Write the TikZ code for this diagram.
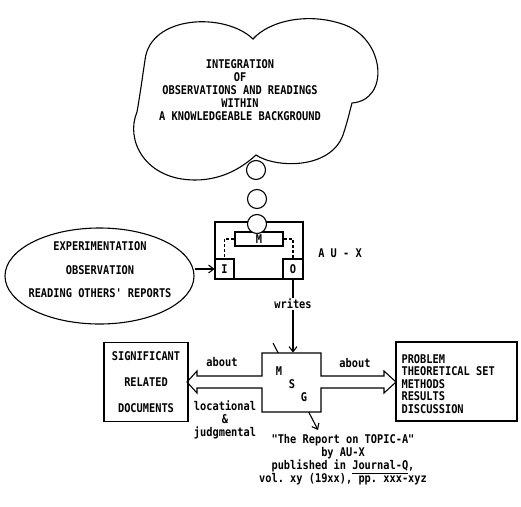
\documentclass[tikz,border=0pt]{standalone}
\usepackage{fontspec}
\setmonofont[FakeStretch=0.86]{DejaVu Sans Mono}
\usepackage{tikz}
\usetikzlibrary{arrows.meta, shapes.geometric}

\begin{document}
\begin{tikzpicture}[x=1pt, y=-1pt, line width=1.1pt,
    >={Straight Barb[length=5pt, width=8pt]},
    txt/.style={font=\ttfamily\bfseries\fontsize{12}{13}\selectfont, inner sep=1pt},
    box/.style={draw, rectangle, inner sep=0pt},
    bubble/.style={draw, circle, fill=white, minimum size=19pt, inner sep=0pt}]
    \useasboundingbox (0,0) rectangle (521,506);

    % Thought cloud
    \draw (253,39) .. controls (225,12) and (150,15) .. (145,60)
        .. controls (142,80) and (140,95) .. (137,112)
        .. controls (125,140) and (145,180) .. (195,180)
        .. controls (225,180) and (245,165) .. (256,155)
        .. controls (275,168) and (330,170) .. (343,135)
        .. controls (348,120) and (350,110) .. (352,103)
        .. controls (390,100) and (385,40) .. (345,25)
        .. controls (310,12) and (270,20) .. cycle;
    \node[txt, align=center] (idea) at (240,90)
        {INTEGRATION\\OF\\OBSERVATIONS AND READINGS\\WITHIN\\A KNOWLEDGEABLE BACKGROUND};
    \node[bubble] (b1) at (256,170) {};
    \node[bubble] (b2) at (257,199) {};

    % Author AU-X
    \node[box, minimum width=88pt, minimum height=57pt] (aux) at (259,250.5) {};
    \node[box, txt, minimum width=48pt, minimum height=14pt] (mem) at (259,239) {M};
    \node[box, txt, minimum width=19pt, minimum height=20pt] (inb) at (224.5,269) {I};
    \node[box, txt, minimum width=20pt, minimum height=20pt] (outb) at (293,269) {O};
    \node[bubble] (b3) at (257,224) {};
    \draw[dash pattern=on 3pt off 2pt] (mem.west) -| (inb.north);
    \draw[dash pattern=on 3pt off 2pt] (mem.east) -| (outb.north);
    \node[txt] (auxlbl) at (340,253) {A U - X};

    % Sources
    \node[draw, ellipse, minimum width=189pt, minimum height=96pt, inner sep=0pt] (obs) at (99.5,276) {};
    \node[txt, align=center] (obslbl) at (100,270)
        {EXPERIMENTATION\\[10.5pt]OBSERVATION\\[10.5pt]READING OTHERS' REPORTS};
    \draw[->] (inb.west -| obs.east) -- (inb.west);

    % Message
    \node[minimum width=59pt, minimum height=59pt, inner sep=0pt] (msg) at (291.5,382.5) {};
    \draw[->] (outb.south) -- node[txt, fill=white, pos=0.33] (writes) {writes} (outb.south |- msg.north);
    \coordinate (msgtail) at (273,343);
    \coordinate (msghead) at (318,430);
    \draw[->] (msgtail) -- (msghead);
    \draw[fill=white] (262,353) -- (321,353) -- (321,376) -- (384,376) -- (384,371)
        -- (396,382) -- (384,393) -- (384,388) -- (321,388) -- (321,412) -- (262,412)
        -- (262,388) -- (197,388) -- (197,393) -- (187,382) -- (197,371) -- (197,376)
        -- (262,376) -- cycle;
    \node[txt] (m) at (279,371) {M};
    \node[txt] (s) at (292,384) {S};
    \node[txt] (g) at (304,397) {G};
    \node[txt] (aboutl) at (222,362) {about};
    \node[txt] (aboutr) at (355,363) {about};
    \node[txt, align=center] (kind) at (225,420) {locational\\\&\\judgmental};

    % Targets
    \node[box, txt, align=center, minimum width=84pt, minimum height=79pt] (docs) at (146,382)
        {SIGNIFICANT\\[13pt]RELATED\\[13pt]DOCUMENTS};
    \node[box, minimum width=121pt, minimum height=79pt] (topics) at (456.5,381.5) {};
    \node[txt, align=left, anchor=west, font=\ttfamily\bfseries\fontsize{12}{12.5}\selectfont] (topicslbl) at (400,384)
        {PROBLEM\\THEORETICAL SET\\METHODS\\RESULTS\\DISCUSSION};

    % Citation
    \node[txt, align=center] (cite) at (343,460)
        {"The Report on TOPIC-A"\\by AU-X\\published in \underline{Journal-Q},\\vol. xy (19xx), pp. xxx-xyz};
\end{tikzpicture}
\end{document}
